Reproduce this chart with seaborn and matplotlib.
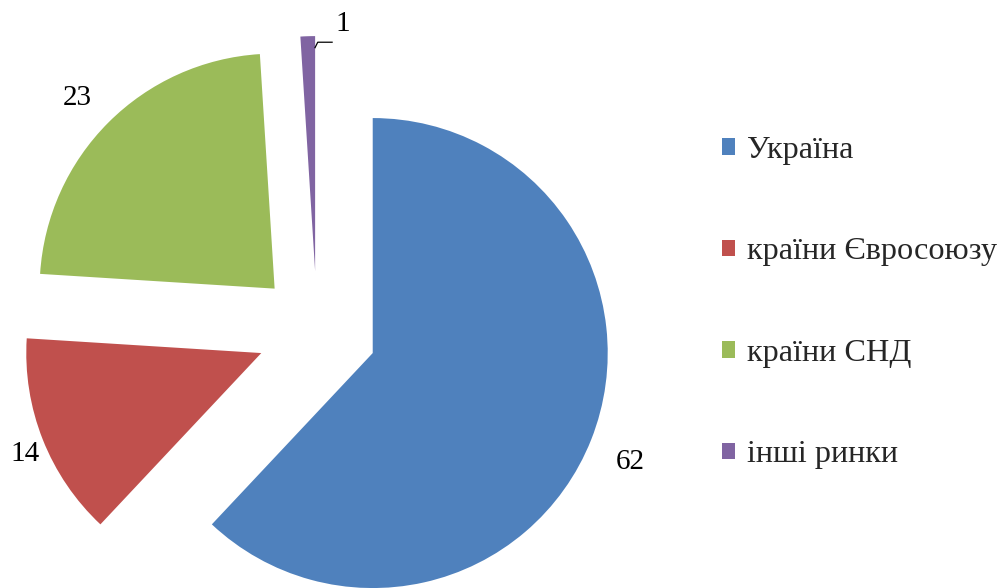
import numpy as np
import matplotlib
matplotlib.use("Agg")
import matplotlib.pyplot as plt
from matplotlib.patches import Patch
from matplotlib import font_manager as fm
import seaborn as sns

# Market shares, %
markets = ["Україна", "країни Євросоюзу", "країни СНД", "інші ринки"]
shares = [62, 14, 23, 1]
colors = ["#4F81BD", "#C0504D", "#9BBB59", "#8064A2"]

sns.set_theme(style="white")
plt.rcParams["font.family"] = ["Liberation Serif", "DejaVu Serif"]
legend_font = fm.FontProperties(family="Liberation Serif", size=23.2)

W, H, DPI = 1007, 588, 100
fig = plt.figure(figsize=(W / DPI, H / DPI), dpi=DPI)
ax = fig.add_axes([0, 0, 1, 1])

wedges, _ = ax.pie(
    shares,
    colors=colors,
    startangle=90,
    counterclock=False,
    explode=[0.255] * len(shares),
    radius=1.0,
    wedgeprops=dict(linewidth=0),
)

# Pixel scale: 235 px per unit radius, pie centre at (317, 331) from top-left
scale = 235.0
cx, cy = 317.0, 331.0
ax.set_xlim(-cx / scale, (W - cx) / scale)
ax.set_ylim(-(H - cy) / scale, cy / scale)
ax.set_aspect("equal")
ax.axis("off")

# Value labels just outside each wedge
label_dist = [1.18, 1.08, 1.19, None]
s = 1 / scale
for w, val, d in zip(wedges, shares, label_dist):
    mid = np.deg2rad((w.theta1 + w.theta2) / 2)
    x0, y0 = w.center
    if d is not None:
        ax.text(x0 + d * w.r * np.cos(mid), y0 + d * w.r * np.sin(mid) - 0.03,
                str(val), ha="center", va="center", fontsize=21, color="black",
                family="Liberation Serif")
    else:
        # small slice: label sits above-right with a short leader line
        px, py = x0 + w.r * np.cos(mid), y0 + w.r * np.sin(mid)
        lx = [px + 7 * s, px + 10 * s, px + 25 * s]
        ly = [py - 12 * s, py - 6 * s, py - 6 * s]
        ax.plot(lx, ly, color="black", lw=0.9, solid_capstyle="butt")
        ax.text(px + 35 * s, py + 12 * s, str(val), ha="center", va="center",
                fontsize=21, color="black", family="Liberation Serif")

handles = [Patch(facecolor=c, edgecolor="none") for c in colors]
leg = fig.legend(
    handles, markets,
    loc="upper left", bbox_to_anchor=(722 / W, 1 - 136 / H),
    frameon=False, prop=legend_font,
    handlelength=0.4, handleheight=0.4, handletextpad=0.37,
    labelspacing=2.25, borderpad=0, borderaxespad=0,
)
for t in leg.get_texts():
    t.set_fontfamily("Liberation Serif")

fig.savefig("out.png", dpi=DPI, facecolor="white")
